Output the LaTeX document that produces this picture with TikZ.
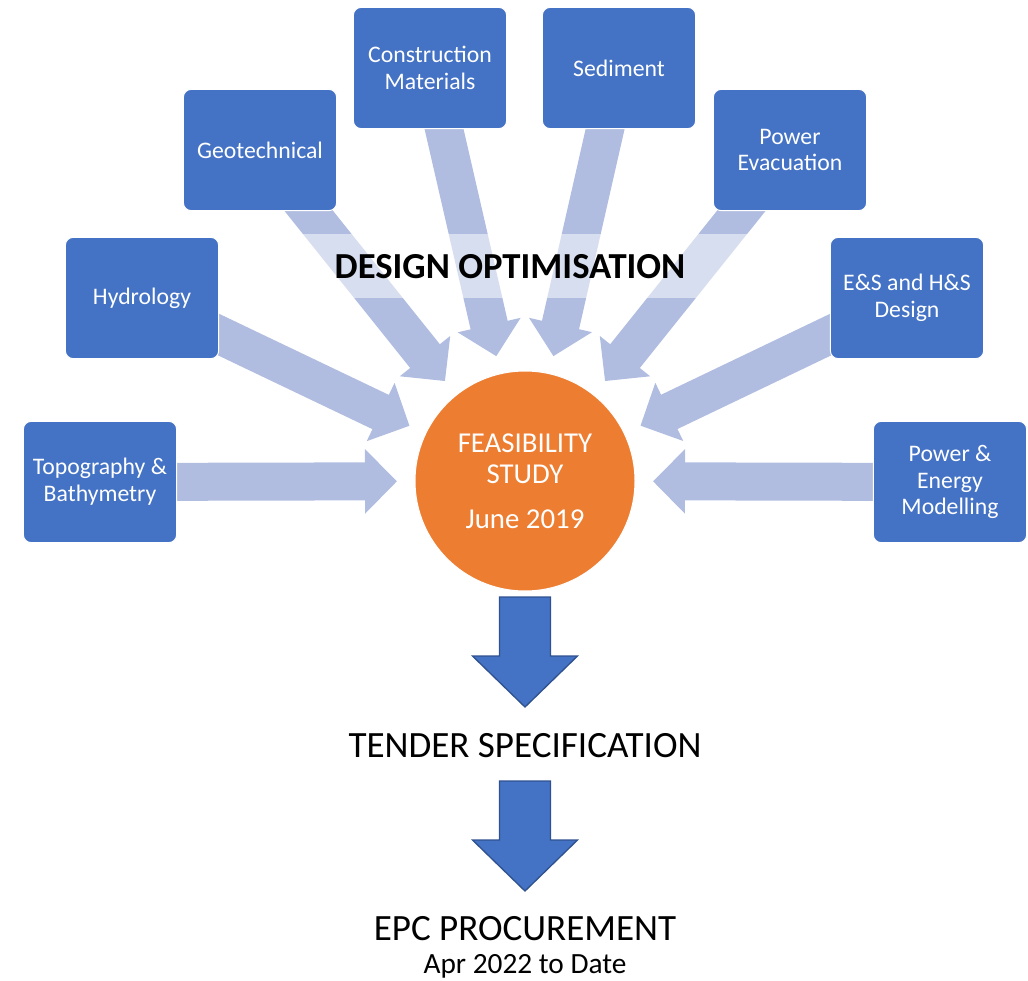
\documentclass[tikz,border=0pt]{standalone}
\usepackage{fontspec}
\setmainfont{Carlito}
\usetikzlibrary{arrows.meta,calc,backgrounds}
\definecolor{boxblue}{HTML}{4472C4}
\definecolor{flowblue}{HTML}{B0BDE0}
\definecolor{fsorange}{HTML}{ED7D31}
\definecolor{edgeblue}{HTML}{2F528F}

\begin{document}
\begin{tikzpicture}[x=0.75pt, y=-0.75pt]
        \tikzstyle{every node}=[inner sep=0pt]
        \tikzstyle{topic}=[rectangle, rounded corners=6pt, fill=boxblue, draw=white, line width=0.75pt, minimum width=115pt, minimum height=91pt, text=white, align=center, font=\fontsize{17.8}{20}\selectfont]
        \tikzstyle{flow}=[draw=flowblue, line width=28.5pt, -{Triangle[length=24pt,width=47pt]}]
        \tikzstyle{stage}=[font=\fontsize{27.8}{30}\selectfont, anchor=base]
        \tikzstyle{down}=[fill=boxblue, draw=edgeblue, line width=1pt, line join=miter]
        \useasboundingbox (0,0) rectangle (1028,981);
        % inputs around the study
        \node [topic] (topo) at (100,482) {Topography \&\\Bathymetry};
        \node [topic] (hydro) at (142,298) {Hydrology};
        \node [topic] (geo) at (260,150) {Geotechnical};
        \node [topic] (mat) at (430,68) {Construction\\Materials};
        \node [topic] (sed) at (619,68) {Sediment};
        \node [topic] (evac) at (790,150) {Power\\Evacuation};
        \node [topic] (esd) at (907,298) {E\&S and H\&S\\Design};
        \node [topic] (pem) at (950,482) {Power \&\\Energy\\Modelling};
        \node [circle, fill=fsorange, draw=white, line width=0.75pt, minimum size=165pt, text=white, align=center, font=\fontsize{21.6}{23.5}\selectfont] (fs) at (525,481) {FEASIBILITY\\STUDY\\[10pt]June 2019};
        \begin{scope}[on background layer]
            \foreach \t in {topo,hydro,geo,mat,sed,evac,esd,pem}
                \draw [flow] (\t.center) -- ($(fs.center)!96pt!(\t.center)$);
        \end{scope}
        \fill [white, opacity=0.5] (232,234) rectangle (820,298);
        \node [font=\bfseries\fontsize{27.5}{30}\selectfont] (dopt) at (510,267) {DESIGN OPTIMISATION};
        % stages below
        \node [stage] (tender) at (525,757) {TENDER SPECIFICATION};
        \node [stage] (epc) at (525,940) {EPC PROCUREMENT};
        \node [font=\fontsize{22}{24}\selectfont, anchor=base] (date) at (525,973) {Apr 2022 to Date};
        \coordinate (down1) at (525,597);
        \coordinate (down2) at (525,781);
        \foreach \d in {down1,down2}
            \draw [down] (\d) ++(-25.5,0) -- ++(51,0) -- ++(0,59) -- ++(27,0) -- ++(-52.5,51) -- ++(-52.5,-51) -- ++(27,0) -- cycle;
\end{tikzpicture}
\end{document}
